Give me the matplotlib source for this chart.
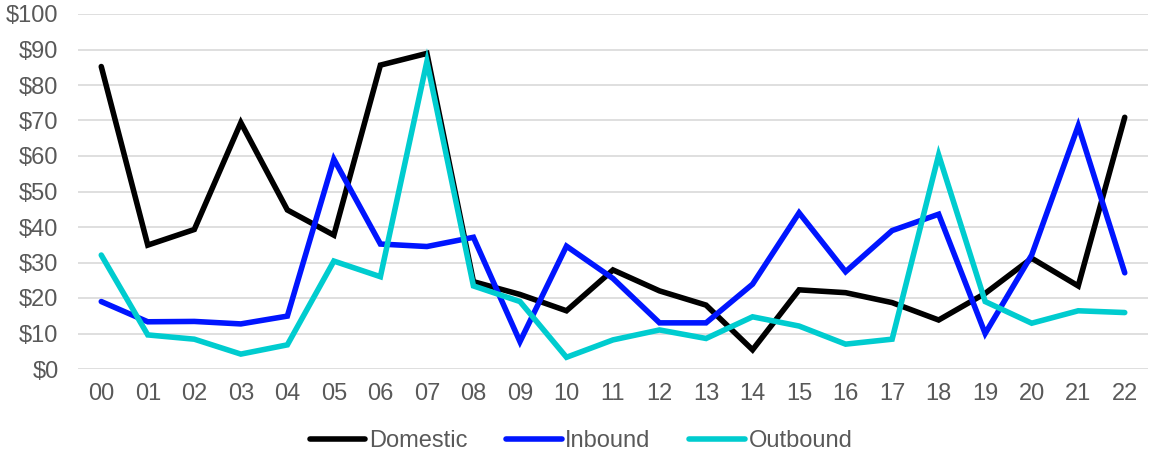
import matplotlib
matplotlib.use("Agg")
import matplotlib.pyplot as plt
from matplotlib.ticker import FuncFormatter

plt.rcParams['font.family'] = ['Liberation Sans', 'DejaVu Sans']

hours = ['00', '01', '02', '03', '04', '05', '06', '07', '08', '09', '10', '11',
         '12', '13', '14', '15', '16', '17', '18', '19', '20', '21', '22']

domestic = [85.2, 34.9, 39.3, 69.4, 44.8, 37.7, 85.6, 88.9, 24.6, 21.0, 16.4, 27.9,
            22.0, 18.0, 5.4, 22.3, 21.5, 18.7, 13.8, 21.3, 31.2, 23.4, 70.9]
inbound = [19.0, 13.3, 13.4, 12.7, 14.9, 59.1, 35.2, 34.5, 37.1, 7.7, 34.6, 25.5,
           13.0, 13.0, 23.9, 44.0, 27.4, 39.0, 43.6, 10.0, 32.1, 68.5, 27.1]
outbound = [32.1, 9.6, 8.4, 4.2, 6.8, 30.4, 26.0, 86.6, 23.4, 19.0, 3.3, 8.2,
            11.0, 8.6, 14.7, 12.1, 7.0, 8.4, 60.3, 19.0, 12.9, 16.4, 15.9]

series = [('Domestic', domestic, '#000000'),
          ('Inbound', inbound, '#0015ff'),
          ('Outbound', outbound, '#00cccf')]

text_color = '#595959'

fig = plt.figure(figsize=(11.5, 4.51), dpi=100)
ax = fig.add_axes([78 / 1150, 1 - 369 / 451, 1070 / 1150, 355 / 451])

x = range(len(hours))
for name, values, color in series:
    ax.plot(x, values, color=color, linewidth=4.0, label=name,
            solid_joinstyle='miter', solid_capstyle='round')

ax.set_xlim(-0.5, len(hours) - 0.5)
ax.set_ylim(0, 100)
ax.set_yticks(range(0, 101, 10))
ax.yaxis.set_major_formatter(FuncFormatter(lambda v, _: f'${v:.0f}'))
ax.set_xticks(list(x))
ax.set_xticklabels(hours)

ax.grid(axis='y', color='#d9d9d9', linewidth=1.2)
ax.set_axisbelow(True)
for spine in ax.spines.values():
    spine.set_visible(False)
ax.tick_params(axis='both', length=0, labelsize=17, colors=text_color)
ax.tick_params(axis='y', pad=14)
ax.tick_params(axis='x', pad=10)

fig.legend(loc='center', bbox_to_anchor=(581 / 1150, 0.022), ncol=3, frameon=False,
           fontsize=17, handlelength=2.35, handletextpad=0.15, columnspacing=1.65,
           labelcolor=text_color)

fig.savefig('out.png', dpi=100)
